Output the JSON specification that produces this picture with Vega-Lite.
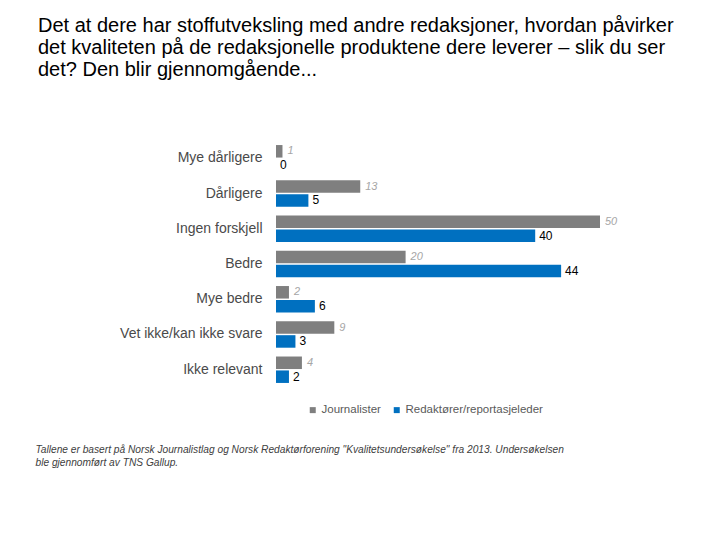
{
  "$schema": "https://vega.github.io/schema/vega-lite/v6.json",
  "autosize": {"type": "none"},
  "width": 324,
  "height": 252,
  "padding": {"left": 276, "top": 138, "right": 120, "bottom": 150},
  "background": "white",
  "config": {
    "view": {"stroke": null},
    "font": "Liberation Sans"
  },
  "title": {
    "text": [
      "Det at dere har stoffutveksling med andre redaksjoner, hvordan påvirker",
      "det kvaliteten på de redaksjonelle produktene dere leverer – slik du ser",
      "det? Den blir gjennomgående..."
    ],
    "anchor": "start",
    "frame": "group",
    "dx": -238,
    "offset": 58,
    "fontSize": 20,
    "fontWeight": "normal",
    "lineHeight": 22,
    "color": "#000000"
  },
  "data": {
    "values": [
      {"kategori": "Mye dårligere", "gruppe": "Journalister", "verdi": 1},
      {"kategori": "Mye dårligere", "gruppe": "Redaktører/reportasjeleder", "verdi": 0},
      {"kategori": "Dårligere", "gruppe": "Journalister", "verdi": 13},
      {"kategori": "Dårligere", "gruppe": "Redaktører/reportasjeleder", "verdi": 5},
      {"kategori": "Ingen forskjell", "gruppe": "Journalister", "verdi": 50},
      {"kategori": "Ingen forskjell", "gruppe": "Redaktører/reportasjeleder", "verdi": 40},
      {"kategori": "Bedre", "gruppe": "Journalister", "verdi": 20},
      {"kategori": "Bedre", "gruppe": "Redaktører/reportasjeleder", "verdi": 44},
      {"kategori": "Mye bedre", "gruppe": "Journalister", "verdi": 2},
      {"kategori": "Mye bedre", "gruppe": "Redaktører/reportasjeleder", "verdi": 6},
      {"kategori": "Vet ikke/kan ikke svare", "gruppe": "Journalister", "verdi": 9},
      {"kategori": "Vet ikke/kan ikke svare", "gruppe": "Redaktører/reportasjeleder", "verdi": 3},
      {"kategori": "Ikke relevant", "gruppe": "Journalister", "verdi": 4},
      {"kategori": "Ikke relevant", "gruppe": "Redaktører/reportasjeleder", "verdi": 2}
    ]
  },
  "encoding": {
    "y": {
      "field": "kategori",
      "type": "nominal",
      "sort": ["Mye dårligere", "Dårligere", "Ingen forskjell", "Bedre", "Mye bedre", "Vet ikke/kan ikke svare", "Ikke relevant"],
      "scale": {"paddingInner": 0.25},
      "axis": {
        "title": null,
        "ticks": false,
        "domain": false,
        "labelPadding": 14,
        "labelFontSize": 14,
        "labelColor": "#4a4a4a"
      }
    },
    "yOffset": {
      "field": "gruppe",
      "type": "nominal",
      "sort": ["Journalister", "Redaktører/reportasjeleder"],
      "scale": {"paddingInner": 0.1}
    },
    "x": {
      "field": "verdi",
      "type": "quantitative",
      "scale": {"domain": [0, 50], "nice": false},
      "axis": {
        "labels": false,
        "ticks": false,
        "domain": false,
        "grid": false,
        "title": [
          "Tallene er  basert på Norsk Journalistlag og Norsk Redaktørforening \"Kvalitetsundersøkelse\" fra 2013. Undersøkelsen",
          "ble gjennomført av TNS Gallup."
        ],
        "titleAnchor": "start",
        "titleAlign": "left",
        "titleX": -241,
        "titleY": 54,
        "titleBaseline": "top",
        "titleFontSize": 10.2,
        "titleFontStyle": "italic",
        "titleFontWeight": "normal",
        "titleColor": "#404040",
        "titleLineHeight": 13
      }
    }
  },
  "layer": [
    {
      "mark": {"type": "bar"},
      "encoding": {
        "color": {
          "field": "gruppe",
          "type": "nominal",
          "sort": ["Journalister", "Redaktører/reportasjeleder"],
          "scale": {"range": ["#7f7f7f", "#0070c0"]},
          "legend": {
            "title": null,
            "orient": "none",
            "direction": "horizontal",
            "legendX": 31,
            "legendY": 266,
            "symbolType": "square",
            "symbolSize": 36,
            "labelFontSize": 11.5,
            "labelColor": "#595959",
            "columnPadding": 10,
            "labelOffset": 3
          }
        }
      }
    },
    {
      "transform": [{"filter": "datum.gruppe === 'Journalister'"}],
      "mark": {"type": "text", "align": "left", "dx": 5, "fontSize": 11, "fontStyle": "italic", "color": "#a6a6a6"},
      "encoding": {"text": {"field": "verdi", "type": "quantitative"}}
    },
    {
      "transform": [{"filter": "datum.gruppe !== 'Journalister'"}],
      "mark": {"type": "text", "align": "left", "dx": 4, "fontSize": 12, "color": "#000000"},
      "encoding": {"text": {"field": "verdi", "type": "quantitative"}}
    }
  ]
}
